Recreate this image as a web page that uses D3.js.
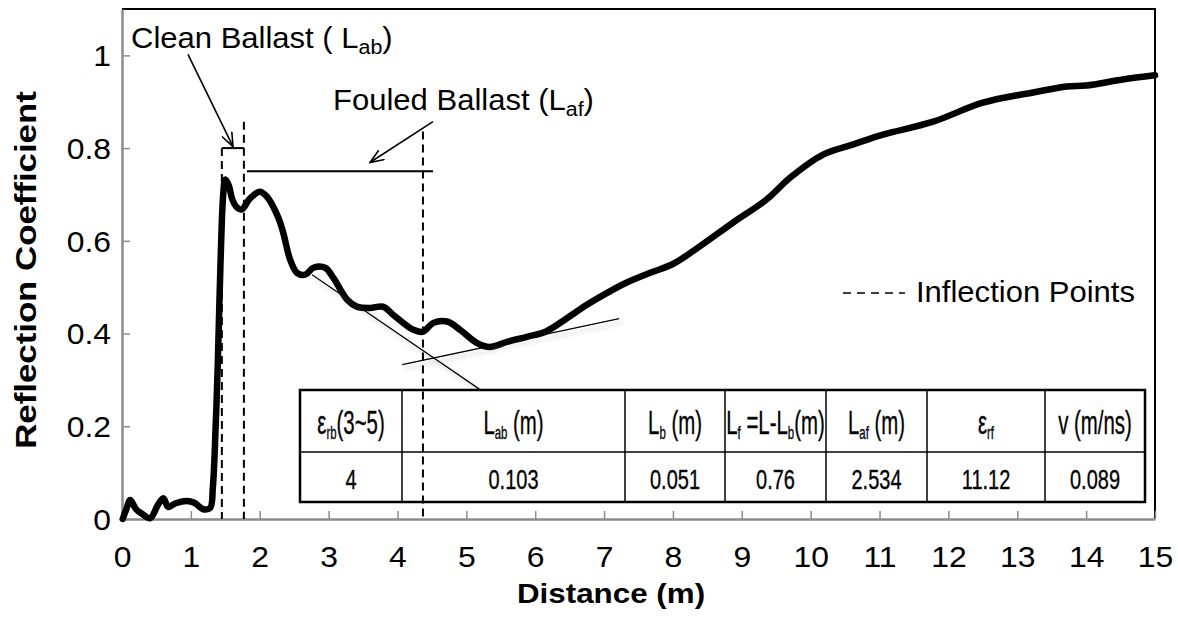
<!DOCTYPE html>
<html>
<head>
<meta charset="utf-8">
<script src="https://cdn.jsdelivr.net/npm/d3@7"></script>
<style>
  body { margin: 0; background: #fff; }
  text { font-family: "Liberation Sans", Arial, sans-serif; fill: #000; }
</style>
</head>
<body>
<svg id="chart" width="1178" height="619"></svg>
<script>
// trace: distance (m) and reflection coefficient
var distance = [0.01, 0.06, 0.12, 0.2, 0.3, 0.41, 0.52, 0.6, 0.67, 0.78, 0.94, 1.05, 1.18, 1.28, 1.32, 1.36,
  1.39, 1.43, 1.47, 1.5, 1.55, 1.6, 1.67, 1.74, 1.85, 2.0, 2.1, 2.27, 2.34, 2.44, 2.54, 2.66, 2.78, 2.95,
  3.07, 3.27, 3.41, 3.6, 3.79, 3.94, 4.23, 4.37, 4.52, 4.72, 4.91, 5.15, 5.34, 5.59, 5.88, 6.15, 6.45,
  6.75, 7.0, 7.3, 7.67, 8.0, 8.39, 8.87, 9.36, 9.7, 10.18, 10.62, 11.05, 11.78, 12.5, 13.23, 13.72,
  14.0, 14.53, 15.0];
var reflection = [0.0, 0.02, 0.041, 0.022, 0.01, 0.002, 0.03, 0.045, 0.026, 0.034, 0.039, 0.035, 0.021, 0.024, 0.07, 0.2,
  0.33, 0.55, 0.7, 0.732, 0.72, 0.69, 0.672, 0.668, 0.69, 0.706, 0.696, 0.65, 0.618, 0.56, 0.531, 0.527, 0.542, 0.542,
  0.52, 0.473, 0.458, 0.455, 0.458, 0.44, 0.408, 0.404, 0.423, 0.426, 0.408, 0.38, 0.371, 0.382, 0.393, 0.404, 0.432,
  0.462, 0.484, 0.508, 0.531, 0.55, 0.588, 0.639, 0.689, 0.736, 0.786, 0.808, 0.829, 0.857, 0.898, 0.92, 0.933,
  0.935, 0.948, 0.957];

var xTicks = [0, 1, 2, 3, 4, 5, 6, 7, 8, 9, 10, 11, 12, 13, 14, 15];
var yTicks = [0, 0.2, 0.4, 0.6, 0.8, 1];

// inflection points (m) and the top of each dashed marker
var inflectionX = [1.45, 1.77, 4.37];
var inflectionTop = [0.80, 0.857, 0.836];

// tangent lines drawn on the trace
var tangents = [
  [[2.76, 0.527], [5.2, 0.279]],
  [[4.07, 0.333], [7.22, 0.432]]
];

// table contents, header parts are [text, subscript?]
var tableHead = [
  [["ε", 0], ["rb", 1], ["(3~5)", 0]],
  [["L", 0], ["ab", 1], [" (m)", 0]],
  [["L", 0], ["b", 1], [" (m)", 0]],
  [["L", 0], ["f", 1], [" =L-L", 0], ["b", 1], ["(m)", 0]],
  [["L", 0], ["af", 1], [" (m)", 0]],
  [["ε", 0], ["rf", 1]],
  [["v (m/ns)", 0]]
];
var tableValues = ["4", "0.103", "0.051", "0.76", "2.534", "11.12", "0.089"];

var svg = d3.select("#chart");
var x = d3.scaleLinear().domain([0, 15]).range([122, 1155]);
var y = d3.scaleLinear().domain([0, 1.1]).range([519, 9]);
var sx = 1.1; // the source picture is wider than Arial

var defs = svg.append("defs");
defs.append("marker")
  .attr("id", "open-arrow")
  .attr("viewBox", "0 0 16 12")
  .attr("refX", 15).attr("refY", 6)
  .attr("markerWidth", 16).attr("markerHeight", 12)
  .attr("markerUnits", "userSpaceOnUse")
  .attr("orient", "auto")
  .append("path")
  .attr("d", "M1,0.5 L15,6 L1,11.5")
  .attr("fill", "none").attr("stroke", "#000").attr("stroke-width", 1.6);
defs.append("filter")
  .attr("id", "soft-shadow")
  .attr("x", "-10%").attr("y", "-10%").attr("width", "130%").attr("height", "140%")
  .append("feDropShadow")
  .attr("dx", 3).attr("dy", 4).attr("stdDeviation", 2)
  .attr("flood-color", "#888").attr("flood-opacity", 0.45);

// plot frame
svg.append("path")
  .attr("d", "M" + x(0) + "," + y(1.1) + "H" + x(15) + "V" + y(0))
  .attr("fill", "none").attr("stroke", "#000").attr("stroke-width", 2);

// axes
var xAxis = svg.append("g")
  .attr("transform", "translate(0," + y(0) + ")")
  .call(d3.axisBottom(x).tickValues(xTicks).tickSizeInner(-8).tickSizeOuter(0).tickPadding(27).tickFormat(d3.format("d")));
var yAxis = svg.append("g")
  .attr("transform", "translate(" + x(0) + ",0)")
  .call(d3.axisLeft(y).tickValues(yTicks).tickSizeInner(-8).tickSizeOuter(0).tickPadding(10).tickFormat(function(d){ return String(d); }));
[xAxis, yAxis].forEach(function(a){
  a.select(".domain").attr("stroke", "#8c8c8c").attr("stroke-width", 2.5);
  a.selectAll(".tick line").attr("stroke", "#8c8c8c").attr("stroke-width", 1.5);
  a.selectAll(".tick text")
    .attr("font-size", 29)
    .attr("font-family", "Liberation Sans, Arial, sans-serif")
    .attr("fill", "#000");
});
xAxis.selectAll(".tick text").attr("transform", "scale(" + sx + ",1)");
yAxis.selectAll(".tick text").attr("dy", "0.36em").attr("transform", "scale(" + sx + ",1)");

// axis titles
svg.append("text")
  .attr("transform", "translate(611,603) scale(1.12,1)")
  .attr("text-anchor", "middle")
  .attr("font-size", 28).attr("font-weight", "bold")
  .text("Distance (m)");
svg.append("text")
  .attr("transform", "translate(36," + ((y(0) + y(1.1)) / 2 + 6) + ") rotate(-90) scale(1.2,1)")
  .attr("text-anchor", "middle")
  .attr("font-size", 29).attr("font-weight", "bold")
  .text("Reflection Coefficient");

// trace
var pts = distance.map(function(d, i){ return [d, reflection[i]]; });
svg.append("path")
  .datum(pts)
  .attr("d", d3.line().x(function(d){ return x(d[0]); }).y(function(d){ return y(d[1]); }).curve(d3.curveCatmullRom.alpha(0.5)))
  .attr("fill", "none").attr("stroke", "#000").attr("stroke-width", 6.5)
  .attr("stroke-linejoin", "round").attr("stroke-linecap", "round");

// tangents
svg.selectAll(".tangent")
  .data(tangents)
  .enter().append("line")
  .attr("class", "tangent")
  .attr("x1", function(d){ return x(d[0][0]); }).attr("y1", function(d){ return y(d[0][1]); })
  .attr("x2", function(d){ return x(d[1][0]); }).attr("y2", function(d){ return y(d[1][1]); })
  .attr("stroke", "#000").attr("stroke-width", 1.3)
  .attr("filter", "url(#soft-shadow)");

// table
var colEdges = [300, 402, 625, 725, 826, 927, 1045, 1145];
var rowEdges = [390, 452, 502];
var table = svg.append("g");
table.append("rect")
  .attr("x", colEdges[0]).attr("y", rowEdges[0])
  .attr("width", colEdges[7] - colEdges[0]).attr("height", rowEdges[2] - rowEdges[0])
  .attr("fill", "#fff").attr("stroke", "#000").attr("stroke-width", 2.5);
table.selectAll(".vline")
  .data(colEdges.slice(1, -1))
  .enter().append("line")
  .attr("x1", function(d){ return d; }).attr("x2", function(d){ return d; })
  .attr("y1", rowEdges[0]).attr("y2", rowEdges[2])
  .attr("stroke", "#000").attr("stroke-width", 1.5);
table.append("line")
  .attr("x1", colEdges[0]).attr("x2", colEdges[7])
  .attr("y1", rowEdges[1]).attr("y2", rowEdges[1])
  .attr("stroke", "#000").attr("stroke-width", 1.5);

tableHead.forEach(function(parts, i){
  var cx = (colEdges[i] + colEdges[i + 1]) / 2;
  var t = table.append("text")
    .attr("transform", "translate(" + cx + "," + (rowEdges[0] + 44) + ") scale(0.6,1)")
    .attr("text-anchor", "middle")
    .attr("font-size", 34).attr("fill", "#1a1a1a")
    .attr("stroke", "#1a1a1a").attr("stroke-width", 0.4);
  var shifted = false;
  parts.forEach(function(p){
    var dy = p[1] ? (shifted ? 0 : 5) : (shifted ? -5 : 0);
    shifted = !!p[1];
    t.append("tspan")
      .attr("font-size", p[1] ? 19 : 34)
      .attr("dy", dy)
      .text(p[0]);
  });
});
tableValues.forEach(function(v, i){
  var cx = (colEdges[i] + colEdges[i + 1]) / 2;
  table.append("text")
    .attr("transform", "translate(" + cx + "," + (rowEdges[1] + 37) + ") scale(0.74,1)")
    .attr("text-anchor", "middle")
    .attr("font-size", 27).attr("fill", "#1a1a1a")
    .attr("stroke", "#1a1a1a").attr("stroke-width", 0.4)
    .text(v);
});

// inflection point markers
svg.selectAll(".inflection")
  .data(inflectionX)
  .enter().append("line")
  .attr("class", "inflection")
  .attr("x1", function(d){ return x(d); }).attr("x2", function(d){ return x(d); })
  .attr("y1", function(d, i){ return y(inflectionTop[i]); }).attr("y2", y(0))
  .attr("stroke", "#000").attr("stroke-width", 2).attr("stroke-dasharray", "8,5");

// ballast spans
svg.append("line")
  .attr("x1", x(1.45)).attr("x2", x(1.77)).attr("y1", y(0.8)).attr("y2", y(0.8))
  .attr("stroke", "#000").attr("stroke-width", 2);
svg.append("line")
  .attr("x1", x(1.815)).attr("x2", x(4.516)).attr("y1", y(0.75)).attr("y2", y(0.75))
  .attr("stroke", "#000").attr("stroke-width", 2.2);

// arrows
svg.append("line")
  .attr("x1", x(0.958)).attr("y1", y(1.002)).attr("x2", x(1.612)).attr("y2", y(0.803))
  .attr("stroke", "#000").attr("stroke-width", 1.6).attr("marker-end", "url(#open-arrow)");
svg.append("line")
  .attr("x1", x(4.516)).attr("y1", y(0.857)).attr("x2", x(3.6)).attr("y2", y(0.769))
  .attr("stroke", "#000").attr("stroke-width", 1.6).attr("marker-end", "url(#open-arrow)");

// annotation labels
function label(px, py, parts){
  var t = svg.append("text")
    .attr("transform", "translate(" + px + "," + py + ") scale(1.07,1)")
    .attr("font-size", 29);
  var shifted = false;
  parts.forEach(function(p){
    var dy = p[1] ? 6 : (shifted ? -6 : 0);
    shifted = !!p[1];
    t.append("tspan").attr("font-size", p[1] ? 20 : 29).attr("dy", dy).text(p[0]);
  });
}
label(131, 48, [["Clean Ballast ( L", 0], ["ab", 1], [")", 0]]);
label(333, 110, [["Fouled Ballast (L", 0], ["af", 1], [")", 0]]);

// legend
svg.append("line")
  .attr("x1", 843).attr("x2", 905).attr("y1", 293).attr("y2", 293)
  .attr("stroke", "#000").attr("stroke-width", 1.6).attr("stroke-dasharray", "8,6");
svg.append("text")
  .attr("transform", "translate(916,302) scale(1.07,1)")
  .attr("font-size", 29)
  .text("Inflection Points");
</script>
</body>
</html>
